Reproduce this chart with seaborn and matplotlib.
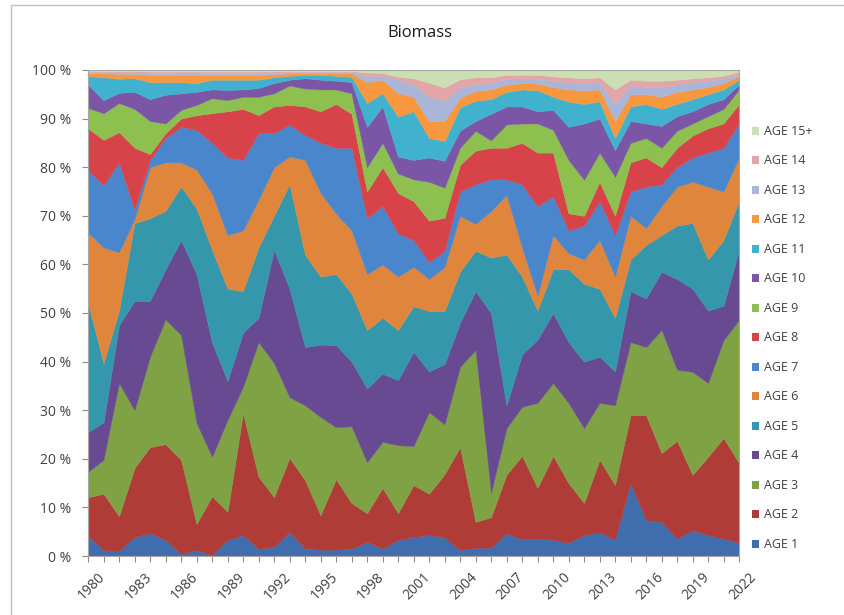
import numpy as np
import pandas as pd
import matplotlib
matplotlib.use("Agg")
import matplotlib.pyplot as plt
import matplotlib.transforms as mtransforms
import seaborn as sns
from matplotlib.patches import Patch, Rectangle

# years on the x axis
years = list(range(1980, 2023))

# upper edge (cumulative %) of each age band
top_age1 = [4.1, 1.2, 1.1, 3.9, 4.7, 3.3, 0.4, 1.2, 0.2, 3.3, 4.3, 1.5, 1.9, 4.9, 1.5, 1.3, 1.3, 1.5, 2.9, 1.5,
            3.3, 3.9, 4.3, 3.8, 1.2, 1.7, 1.7, 4.7, 3.4, 3.6, 3.3, 2.7, 4.3, 4.9, 3.3, 15.0, 7.4, 7.0, 3.6, 5.3,
            4.3, 3.6, 2.7]
top_age2 = [12.1, 12.8, 8.2, 18.1, 22.4, 23.0, 19.8, 6.6, 12.3, 9.1, 29.4, 16.3, 12.1, 20.2, 15.6, 8.4, 15.8, 10.9,
            8.8, 14.0, 8.8, 14.6, 12.8, 16.8, 22.4, 7.0, 8.0, 16.7, 20.6, 14.0, 20.6, 15.0, 10.9, 19.8, 14.6, 29.0,
            29.0, 21.2, 23.7, 16.7, 20.4, 24.3, 19.1]
top_age3 = [17.3, 19.8, 35.6, 30.0, 41.0, 48.7, 45.5, 27.4, 20.4, 28.0, 34.8, 44.0, 39.7, 32.7, 31.0, 28.6, 26.5,
            26.7, 19.3, 23.5, 22.8, 22.6, 29.6, 27.1, 38.9, 42.4, 13.0, 26.3, 30.7, 31.5, 35.6, 31.5, 26.3, 31.5,
            31.0, 44.0, 43.0, 46.5, 38.3, 37.9, 35.6, 44.4, 48.6]
top_age4 = [25.5, 27.5, 47.5, 52.5, 52.5, 59.0, 65.0, 58.0, 44.0, 36.0, 46.0, 49.0, 63.0, 55.0, 43.0, 43.5, 43.4,
            40.0, 34.5, 37.5, 36.2, 42.0, 38.0, 39.5, 48.0, 54.5, 50.0, 31.0, 41.5, 44.5, 50.0, 44.0, 40.0, 41.0,
            38.0, 54.5, 53.0, 58.5, 57.0, 55.0, 50.5, 51.5, 63.0]
top_age5 = [52.0, 39.7, 50.5, 68.5, 69.5, 71.0, 76.0, 71.5, 63.0, 55.0, 54.5, 63.5, 70.0, 76.5, 62.0, 57.5, 58.0,
            54.0, 46.5, 49.0, 46.5, 51.4, 50.4, 50.4, 58.5, 62.8, 61.4, 62.0, 57.5, 50.5, 59.0, 59.0, 56.0, 55.0,
            49.0, 61.0, 64.0, 66.0, 68.0, 68.5, 61.0, 65.0, 73.0]
top_age6 = [66.5, 63.5, 62.5, 69.3, 80.0, 81.0, 81.0, 79.5, 74.6, 66.0, 67.0, 73.3, 80.0, 82.2, 81.5, 74.7, 70.5,
            67.0, 58.0, 60.0, 57.5, 59.5, 57.0, 59.4, 70.0, 68.3, 71.0, 74.3, 63.5, 53.5, 66.0, 62.3, 61.0, 65.0,
            57.5, 70.0, 67.5, 72.0, 76.0, 77.0, 76.0, 75.0, 82.0]
top_age7 = [79.4, 76.3, 81.0, 71.2, 81.5, 86.0, 88.3, 87.7, 85.0, 82.0, 81.5, 87.0, 87.0, 88.8, 86.6, 85.0, 84.0,
            84.0, 69.5, 72.0, 66.4, 65.0, 60.5, 62.8, 75.0, 76.5, 77.5, 77.5, 76.5, 72.0, 74.0, 67.0, 68.0, 73.0,
            66.0, 75.0, 76.0, 76.5, 80.0, 82.0, 83.0, 84.0, 89.0]
top_age8 = [88.0, 85.6, 87.2, 84.0, 82.7, 87.0, 90.0, 90.7, 91.1, 91.5, 92.0, 90.7, 92.5, 92.8, 92.5, 91.5, 93.0,
            91.0, 75.0, 80.0, 74.7, 73.0, 69.0, 69.6, 80.5, 83.4, 84.0, 84.0, 85.0, 83.0, 83.0, 70.5, 70.0, 77.0,
            70.0, 81.0, 82.0, 80.0, 84.0, 86.5, 88.0, 89.0, 93.0]
top_age9 = [92.2, 91.1, 93.2, 92.0, 89.5, 89.0, 91.8, 92.8, 94.2, 93.8, 94.5, 94.5, 95.2, 96.8, 96.2, 96.0, 96.0,
            95.2, 80.0, 85.0, 78.7, 77.5, 77.0, 75.8, 84.0, 87.5, 85.5, 88.8, 89.0, 89.0, 87.7, 81.5, 77.4, 83.0,
            78.0, 85.0, 86.0, 84.0, 87.5, 89.0, 90.5, 92.0, 96.0]
top_age10 = [97.0, 93.8, 95.3, 95.5, 94.0, 94.9, 95.2, 95.5, 96.0, 95.9, 96.0, 96.3, 97.3, 98.0, 98.3, 98.0, 97.8,
             97.5, 88.3, 92.5, 82.2, 81.5, 82.0, 81.3, 87.5, 89.5, 91.0, 92.5, 92.5, 91.5, 91.8, 88.3, 89.0, 90.0,
             83.5, 89.5, 89.0, 88.5, 90.5, 91.5, 93.0, 94.0, 97.0]
top_age11 = [98.8, 98.5, 98.2, 98.3, 97.5, 97.5, 97.5, 97.3, 98.0, 98.0, 98.0, 98.0, 98.5, 98.8, 99.0, 99.0, 98.8,
             98.6, 93.2, 95.2, 90.4, 91.5, 86.0, 85.4, 92.3, 93.7, 94.0, 95.5, 96.0, 95.8, 94.5, 93.5, 93.0, 93.5,
             86.0, 92.5, 93.0, 92.0, 93.0, 94.0, 95.0, 96.0, 98.0]
top_age12 = [99.4, 99.3, 99.2, 99.2, 99.0, 99.0, 98.9, 98.9, 99.0, 99.0, 99.0, 99.0, 99.1, 99.3, 99.4, 99.4, 99.3,
             99.3, 97.5, 98.0, 95.2, 94.5, 89.5, 89.5, 94.3, 95.7, 96.0, 97.0, 97.3, 97.2, 96.5, 96.0, 95.8, 96.0,
             89.5, 95.0, 95.0, 94.5, 95.5, 96.0, 96.5, 97.3, 98.8]
top_age13 = [99.6, 99.6, 99.5, 99.5, 99.4, 99.4, 99.3, 99.3, 99.4, 99.4, 99.4, 99.4, 99.4, 99.5, 99.6, 99.6, 99.6,
             99.6, 98.8, 98.8, 98.0, 97.0, 94.5, 93.7, 96.4, 97.1, 97.3, 98.2, 98.3, 98.2, 97.8, 97.5, 97.3, 97.5,
             93.0, 96.8, 96.5, 96.5, 97.0, 97.5, 97.8, 98.2, 99.3]
top_age14 = [99.8, 99.8, 99.8, 99.8, 99.7, 99.7, 99.7, 99.7, 99.7, 99.7, 99.7, 99.7, 99.7, 99.8, 99.8, 99.8, 99.8,
             99.8, 99.5, 99.4, 98.6, 98.3, 97.4, 96.4, 98.1, 98.5, 98.5, 99.0, 99.0, 99.0, 98.7, 98.5, 98.3, 98.5,
             96.0, 98.0, 97.8, 97.8, 98.0, 98.3, 98.5, 98.8, 99.7]

age_labels = ["AGE 1", "AGE 2", "AGE 3", "AGE 4", "AGE 5", "AGE 6", "AGE 7", "AGE 8",
              "AGE 9", "AGE 10", "AGE 11", "AGE 12", "AGE 13", "AGE 14", "AGE 15+"]
colors = ["#3F6DAE", "#B03C38", "#7FA244", "#684A92", "#3597AB", "#E0863C", "#4A86CC", "#D8434A",
          "#8DC04E", "#7B56A6", "#40B2CE", "#F7983F", "#A9B6D8", "#E2A6A8", "#CCDFB2"]

# turn the band edges into band shares (age 15+ fills up to 100 %)
tops = np.array([top_age1, top_age2, top_age3, top_age4, top_age5, top_age6, top_age7, top_age8,
                 top_age9, top_age10, top_age11, top_age12, top_age13, top_age14])
bottoms = np.vstack([np.zeros(len(years)), tops])
shares = np.diff(np.vstack([bottoms, np.full(len(years), 100.0)]), axis=0)
df = pd.DataFrame(shares.T, index=years, columns=age_labels)

sns.set_style("white")
plt.rcParams["font.family"] = ["Open Sans", "DejaVu Sans"]

fig = plt.figure(figsize=(8.45, 6.15), dpi=100)
ax = fig.add_axes([88 / 845, 1 - 556 / 615, (739 - 88) / 845, (556 - 70) / 615])

ax.stackplot(df.index, df.T.values, colors=colors, labels=age_labels, linewidth=0.3,
             edgecolor="face")

ax.set_xlim(1980, 2022)
ax.set_ylim(0, 100)
ax.set_yticks(range(0, 101, 10))
ax.set_yticklabels([f"{v} %" for v in range(0, 101, 10)], fontsize=10, color="#404040")
ax.set_xticks(years[::3])
ax.set_xticks(years, minor=True)
ax.set_xticklabels([str(y) for y in years[::3]], rotation=45, fontsize=10, color="#404040",
                   ha="right", va="top", rotation_mode="anchor")
ax.tick_params(axis="both", which="both", direction="out", length=4, width=0.8, color="#8C8C8C",
               bottom=True, left=True)
ax.tick_params(axis="y", pad=8)
ax.tick_params(axis="x", which="major", pad=3)

# excel puts the end of each slanted year a little right of its tick
shift = mtransforms.ScaledTranslation(7 / 72, -3 / 72, fig.dpi_scale_trans)
for lab in ax.get_xticklabels():
    lab.set_transform(lab.get_transform() + shift)

for s in ax.spines.values():
    s.set_color("#A6A6A6")
    s.set_linewidth(0.8)

fig.text(0.497, 1 - 33 / 615, "Biomass", ha="center", va="center", fontsize=12, color="#1A1A1A")

# outer chart border
fig.add_artist(Rectangle((11 / 845, -0.01), 1.0, 1 - 5 / 615 + 0.01, transform=fig.transFigure,
                         fill=False, edgecolor="#BFBFBF", linewidth=1.0))

handles = [Patch(facecolor=c, edgecolor="none") for c in colors]
fig.legend(handles[::-1], age_labels[::-1], loc="upper left",
           bbox_to_anchor=(747 / 845, 1 - 120 / 615), frameon=False, fontsize=9,
           handlelength=0.6, handleheight=0.6, handletextpad=0.4, labelspacing=1.32,
           labelcolor="#404040", borderaxespad=0)

fig.savefig("out.png", dpi=100)
